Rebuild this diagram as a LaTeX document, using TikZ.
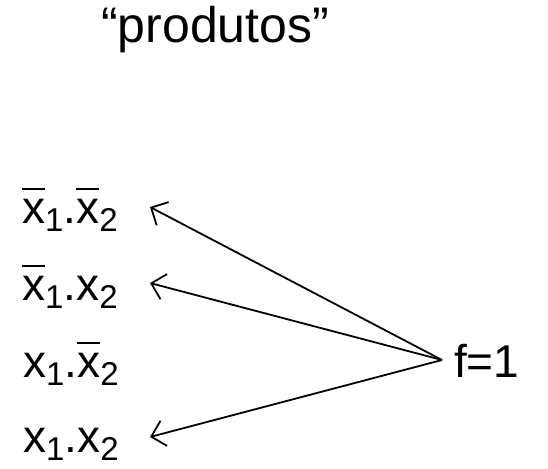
\documentclass[tikz,border=0pt]{standalone}
\usepackage{fontspec}
\setmainfont{Liberation Sans}
\usetikzlibrary{arrows.meta}
\newcommand\subs[1]{\raisebox{-0.18em}{\fontsize{33}{33}\selectfont #1}}
\newcommand\ovx{\rlap{\raisebox{0.72em}{\rule{0.5em}{0.05em}}}x}
\begin{document}
\begin{tikzpicture}[x=1pt,y=-1pt,
  lbl/.style={anchor=base west,inner sep=0pt,font=\fontsize{46}{46}\selectfont},
  arr/.style={line width=1.8pt,-{Straight Barb[length=13pt,width=26pt,line width=1.8pt]}}]
\useasboundingbox (0,0) rectangle (548,468);
\node[lbl,font=\fontsize{50}{50}\selectfont] (title) at (101,43) {“produtos”};
\node[lbl] (p1) at (22,223) {\ovx\subs{1}.\ovx\subs{2}};
\node[lbl] (p2) at (22,300) {\ovx\subs{1}.x\subs{2}};
\node[lbl] (p3) at (23,377) {x\subs{1}.\ovx\subs{2}};
\node[lbl] (p4) at (23,452) {x\subs{1}.x\subs{2}};
\node[lbl] (f) at (454,377) {f=1};
\coordinate (fs) at (442,360);
\coordinate (t1) at (150,207);
\coordinate (t2) at (150,283);
\coordinate (t4) at (150,437);
\draw[arr] (fs) -- (t1);
\draw[arr] (fs) -- (t2);
\draw[arr] (fs) -- (t4);
\end{tikzpicture}
\end{document}
